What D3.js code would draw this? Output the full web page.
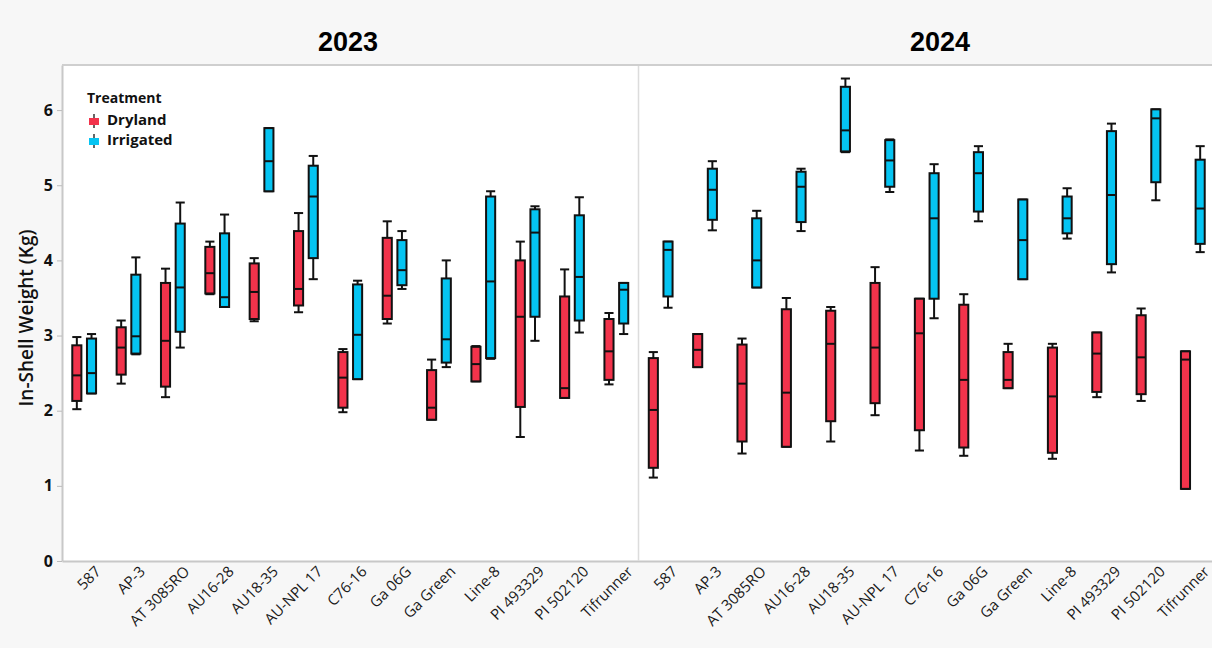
<!DOCTYPE html>
<html>
<head>
<meta charset="utf-8">
<script src="https://cdn.jsdelivr.net/npm/d3@7"></script>
<style>
  body { margin: 0; background: #f7f7f7; }
  svg { display: block; }
</style>
</head>
<body>
<svg id="drawing_region"></svg>
<script>
// genotypes on the x axis (same for both years)
var genotypes = ["587", "AP-3", "AT 3085RO", "AU16-28", "AU18-35", "AU-NPL 17", "C76-16",
                 "Ga 06G", "Ga Green", "Line-8", "PI 493329", "PI 502120", "Tifrunner"];
var years = ["2023", "2024"];
var treatments = ["Dryland", "Irrigated"];
var yTicks = [0, 1, 2, 3, 4, 5, 6];

// [lower whisker, q1, median, q3, upper whisker]
var dry2023 = [
  [2.02, 2.13, 2.47, 2.87, 2.98], [2.36, 2.48, 2.84, 3.11, 3.20], [2.18, 2.32, 2.93, 3.70, 3.89],
  [3.55, 3.56, 3.83, 4.18, 4.25], [3.19, 3.22, 3.58, 3.96, 4.03], [3.31, 3.40, 3.62, 4.39, 4.63],
  [1.98, 2.04, 2.44, 2.78, 2.82], [3.16, 3.22, 3.53, 4.30, 4.52], [1.88, 1.88, 2.04, 2.54, 2.68],
  [2.39, 2.39, 2.62, 2.85, 2.86], [1.65, 2.05, 3.25, 4.00, 4.25], [2.17, 2.17, 2.30, 3.52, 3.88],
  [2.35, 2.41, 2.79, 3.22, 3.30]
];
var irr2023 = [
  [2.23, 2.23, 2.50, 2.96, 3.02], [2.75, 2.76, 2.99, 3.81, 4.04], [2.84, 3.05, 3.64, 4.49, 4.77],
  [3.38, 3.38, 3.51, 4.36, 4.61], [4.92, 4.92, 5.32, 5.76, 5.76], [3.75, 4.03, 4.85, 5.26, 5.39],
  [2.42, 2.42, 3.01, 3.68, 3.73], [3.62, 3.67, 3.87, 4.27, 4.39], [2.58, 2.64, 2.95, 3.76, 4.00],
  [2.69, 2.70, 3.72, 4.85, 4.92], [2.93, 3.25, 4.37, 4.68, 4.72], [3.04, 3.20, 3.78, 4.60, 4.84],
  [3.02, 3.16, 3.61, 3.70, 3.70]
];
var dry2024 = [
  [1.11, 1.24, 2.01, 2.70, 2.78], [2.58, 2.58, 2.81, 3.02, 3.02], [1.43, 1.59, 2.36, 2.88, 2.96],
  [1.52, 1.52, 2.24, 3.35, 3.50], [1.59, 1.86, 2.89, 3.33, 3.38], [1.94, 2.10, 2.84, 3.70, 3.91],
  [1.47, 1.74, 3.03, 3.49, 3.49], [1.40, 1.51, 2.41, 3.41, 3.55], [2.30, 2.30, 2.41, 2.78, 2.89],
  [1.36, 1.44, 2.19, 2.84, 2.89], [2.18, 2.25, 2.76, 3.04, 3.04], [2.13, 2.22, 2.71, 3.27, 3.36],
  [0.96, 0.96, 2.68, 2.79, 2.79]
];
var irr2024 = [
  [3.37, 3.52, 4.14, 4.25, 4.25], [4.40, 4.54, 4.94, 5.22, 5.32], [3.64, 3.64, 4.00, 4.56, 4.66],
  [4.39, 4.51, 4.98, 5.18, 5.22], [5.44, 5.45, 5.73, 6.31, 6.42], [4.91, 4.98, 5.33, 5.60, 5.61],
  [3.23, 3.49, 4.56, 5.16, 5.28], [4.52, 4.65, 5.16, 5.44, 5.52], [3.75, 3.75, 4.27, 4.81, 4.81],
  [4.29, 4.36, 4.56, 4.85, 4.96], [3.84, 3.95, 4.87, 5.72, 5.82], [4.80, 5.04, 5.89, 6.01, 6.01],
  [4.11, 4.22, 4.69, 5.34, 5.52]
];

var seriesByYear = {
  "2023": { "Dryland": dry2023, "Irrigated": irr2023 },
  "2024": { "Dryland": dry2024, "Irrigated": irr2024 }
};
var colors = { "Dryland": "#f2334b", "Irrigated": "#05c4f2" };

var width = 1212;
var height = 648;
// the right panel runs a little past the picture edge, as in the original
var plot = { left: 62, right: 1215, top: 65, bottom: 561 };
var titleX = { "2023": 348, "2024": 940 };

var svg = d3.select('#drawing_region')
    .attr('width', width)
    .attr('height', height);

svg.append('rect')
    .attr('width', width).attr('height', height)
    .attr('fill', '#f7f7f7');

// white plot area
svg.append('rect')
    .attr('x', plot.left).attr('y', plot.top)
    .attr('width', plot.right - plot.left).attr('height', plot.bottom - plot.top)
    .attr('fill', '#ffffff');

const yscale = d3.scaleLinear()
    .domain([0, 6.6])
    .range([plot.bottom, plot.top]);

const xpanel = d3.scaleBand()
    .domain(years)
    .range([plot.left, plot.right]);

// y axis
const yaxis = d3.axisLeft(yscale)
    .tickValues(yTicks)
    .tickFormat(d3.format('d'))
    .tickSize(5)
    .tickSizeOuter(0);

const yaxis_group = svg.append('g')
    .attr('transform', `translate(${plot.left}, 0)`)
    .call(yaxis);
yaxis_group.select('.domain').attr('stroke', '#c8c8c8').attr('stroke-width', 2);
yaxis_group.selectAll('.tick line').attr('stroke', '#bbb');
yaxis_group.selectAll('.tick text')
    .attr('x', -9)
    .attr('font-family', '"Open Sans", sans-serif')
    .attr('font-weight', 700)
    .attr('font-size', 16)
    .attr('fill', '#111');

svg.append('text')
    .attr('transform', `translate(33, ${(plot.top + plot.bottom) / 2 + 5}) rotate(-90)`)
    .attr('text-anchor', 'middle')
    .attr('font-family', '"Open Sans", sans-serif')
    .attr('font-weight', 600)
    .attr('font-size', 19)
    .attr('fill', '#111')
    .text('In-Shell Weight (Kg)');

years.forEach(year => {
  const x0 = xpanel(year);
  const chart = svg.append('g');

  // year title
  svg.append('text')
      .attr('x', titleX[year])
      .attr('y', 51)
      .attr('text-anchor', 'middle')
      .attr('font-family', '"Liberation Sans", Arial, sans-serif')
      .attr('font-weight', 700)
      .attr('font-size', 27)
      .attr('fill', '#000')
      .text(year);

  const xscale = d3.scaleBand()
      .domain(genotypes)
      .range([x0, x0 + xpanel.bandwidth()]);

  const xsub = d3.scaleBand()
      .domain(treatments)
      .range([0, xscale.bandwidth()])
      .paddingInner(0.38)
      .paddingOuter(0.7);

  const xaxis = d3.axisBottom(xscale).tickSize(0).tickSizeOuter(0);
  const xaxis_group = svg.append('g')
      .attr('transform', `translate(0, ${plot.bottom})`)
      .call(xaxis);
  xaxis_group.select('.domain').attr('stroke', '#c8c8c8').attr('stroke-width', 2);
  xaxis_group.selectAll('.tick text')
      .attr('text-anchor', 'end')
      .attr('font-family', '"Open Sans", sans-serif')
      .attr('font-size', 15)
      .attr('fill', '#1a1a1a')
      .attr('transform', 'translate(8, 2) rotate(-45)')
      .attr('dy', '0.7em');

  treatments.forEach(tr => {
    const data = seriesByYear[year][tr];
    const bw = xsub.bandwidth();
    const g = chart.selectAll(null).data(data).enter()
        .append('g')
        .attr('transform', (d, i) => `translate(${xscale(genotypes[i]) + xsub(tr)}, 0)`);

    // whiskers
    g.append('line')
        .attr('x1', bw / 2).attr('x2', bw / 2)
        .attr('y1', d => yscale(d[0])).attr('y2', d => yscale(d[4]))
        .attr('stroke', '#111').attr('stroke-width', 2);
    g.append('line')
        .attr('x1', 0).attr('x2', bw)
        .attr('y1', d => yscale(d[0])).attr('y2', d => yscale(d[0]))
        .attr('stroke', '#111').attr('stroke-width', 2);
    g.append('line')
        .attr('x1', 0).attr('x2', bw)
        .attr('y1', d => yscale(d[4])).attr('y2', d => yscale(d[4]))
        .attr('stroke', '#111').attr('stroke-width', 2);

    // box
    g.append('rect')
        .attr('x', 0)
        .attr('y', d => yscale(d[3]))
        .attr('width', bw)
        .attr('height', d => yscale(d[1]) - yscale(d[3]))
        .attr('fill', colors[tr])
        .attr('stroke', '#111')
        .attr('stroke-width', 2);

    // median
    g.append('line')
        .attr('x1', 0).attr('x2', bw)
        .attr('y1', d => yscale(d[2])).attr('y2', d => yscale(d[2]))
        .attr('stroke', '#111').attr('stroke-width', 2);
  });
});

// panel divider and top border
svg.append('line')
    .attr('x1', xpanel('2024')).attr('x2', xpanel('2024'))
    .attr('y1', plot.top).attr('y2', plot.bottom)
    .attr('stroke', '#dcdcdc').attr('stroke-width', 1.5);
svg.append('line')
    .attr('x1', plot.left).attr('x2', plot.right)
    .attr('y1', plot.top).attr('y2', plot.top)
    .attr('stroke', '#cfcfcf').attr('stroke-width', 2);

// legend
const legend = svg.append('g').attr('transform', 'translate(87, 103)');
legend.append('text')
    .attr('font-family', '"Open Sans", sans-serif')
    .attr('font-weight', 700)
    .attr('font-size', 14)
    .attr('fill', '#111')
    .text('Treatment');
treatments.forEach((tr, i) => {
  const item = legend.append('g').attr('transform', `translate(0, ${22 + i * 20})`);
  item.append('line')
      .attr('x1', 7).attr('x2', 7).attr('y1', -11).attr('y2', 3)
      .attr('stroke', '#333').attr('stroke-width', 1.5);
  item.append('rect')
      .attr('x', 2).attr('y', -7).attr('width', 10).attr('height', 7)
      .attr('fill', colors[tr]);
  item.append('text')
      .attr('x', 20).attr('y', 0)
      .attr('font-family', '"Open Sans", sans-serif')
      .attr('font-weight', 700)
      .attr('font-size', 15)
      .attr('fill', '#111')
      .text(tr);
});
</script>
</body>
</html>
